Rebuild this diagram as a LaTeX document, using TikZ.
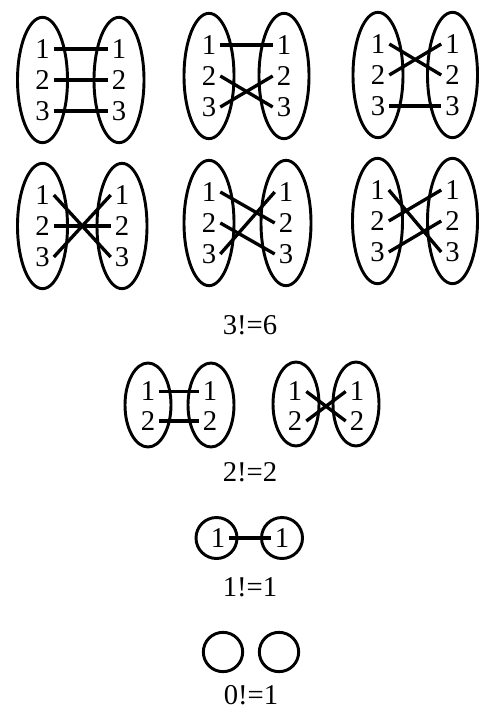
\documentclass[tikz,border=0pt]{standalone}
\usepackage{fontspec}
\setmainfont{Liberation Serif}
\usetikzlibrary{shapes.geometric}
\newcommand\threepanel[4]{%
  \node[big] (#1L) at (#2,#4) {};
  \node[big] (#1R) at (#3,#4) {};
  \foreach \k/\d in {1/-31,2/0,3/31} {
    \node[num] (#1a\k) at (#2,#4+\d) {\k};
    \node[num] (#1b\k) at (#3,#4+\d) {\k};
  }%
}
\begin{document}
\begin{tikzpicture}[x=0.75pt,y=-0.75pt,
  big/.style={ellipse,draw,line width=2.2pt,minimum width=37.5pt,minimum height=94pt,inner sep=0pt},
  mid/.style={ellipse,draw,line width=2.2pt,minimum width=34.5pt,minimum height=63pt,inner sep=0pt},
  ring/.style={circle,draw,line width=2.2pt,minimum size=#1,inner sep=0pt},
  num/.style={inner xsep=2.9pt,inner ysep=0pt,font=\fontsize{21.5}{24}\selectfont},
  caption/.style={inner sep=0pt,font=\fontsize{21.5}{24}\selectfont},
  link/.style={line width=2.5pt}]
\useasboundingbox (0,0) rectangle (499,727);

% 3! row 1
\threepanel{A}{42.5}{119}{80}
\threepanel{B}{209}{284}{76}
\threepanel{C}{378}{452.5}{75}
% 3! row 2
\threepanel{D}{42.5}{122}{226}
\threepanel{E}{209}{286}{223}
\threepanel{F}{377.5}{452.5}{221}

\draw[link] (Aa1.east) -- (Ab1.west);
\draw[link] (Aa2.east) -- (Ab2.west);
\draw[link] (Aa3.east) -- (Ab3.west);

\draw[link] (Ba1.east) -- (Bb1.west);
\draw[link] (Ba2.east) -- (Bb3.west);
\draw[link] (Ba3.east) -- (Bb2.west);

\draw[link] (Ca1.east) -- (Cb2.west);
\draw[link] (Ca2.east) -- (Cb1.west);
\draw[link] (Ca3.east) -- (Cb3.west);

\draw[link] (Da1.east) -- (Db3.west);
\draw[link] (Da2.east) -- (Db2.west);
\draw[link] (Da3.east) -- (Db1.west);

\draw[link] (Ea1.east) -- (Eb2.west);
\draw[link] (Ea2.east) -- (Eb3.west);
\draw[link] (Ea3.east) -- (Eb1.west);

\draw[link] (Fa1.east) -- (Fb3.west);
\draw[link] (Fa2.east) -- (Fb1.west);
\draw[link] (Fa3.east) -- (Fb2.west);

\node[caption] (c3) at (250,325) {3!=6};

% 2! row
\node[mid] (GL) at (148,405) {};
\node[mid] (GR) at (211,405) {};
\node[num] (Ga1) at (148,391.5) {1};
\node[num] (Ga2) at (148,421) {2};
\node[num] (Gb1) at (210,391.5) {1};
\node[num] (Gb2) at (210,421) {2};
\draw[link] (Ga1.east) -- (Gb1.west);
\draw[link] (Ga2.east) -- (Gb2.west);

\node[mid] (HL) at (296,404) {};
\node[mid] (HR) at (356,404) {};
\node[num] (Ha1) at (295,391.5) {1};
\node[num] (Ha2) at (295,421) {2};
\node[num] (Hb1) at (357,391.5) {1};
\node[num] (Hb2) at (357,421) {2};
\draw[link] (Ha1.east) -- (Hb2.west);
\draw[link] (Ha2.east) -- (Hb1.west);

\node[caption] (c2) at (250,472) {2!=2};

% 1! row
\node[ring=30.75pt] (IL) at (216.5,538) {};
\node[ring=30.75pt] (IR) at (282,538) {};
\node[num] (Ia1) at (218,538) {1};
\node[num] (Ib1) at (282,538) {1};
\draw[link] (Ia1.east) -- (Ib1.west);

\node[caption] (c1) at (250,587) {1!=1};

% 0! row
\node[ring=29.5pt] (JL) at (223,652) {};
\node[ring=29.5pt] (JR) at (279,652) {};

\node[caption] (c0) at (251,695) {0!=1};
\end{tikzpicture}
\end{document}
